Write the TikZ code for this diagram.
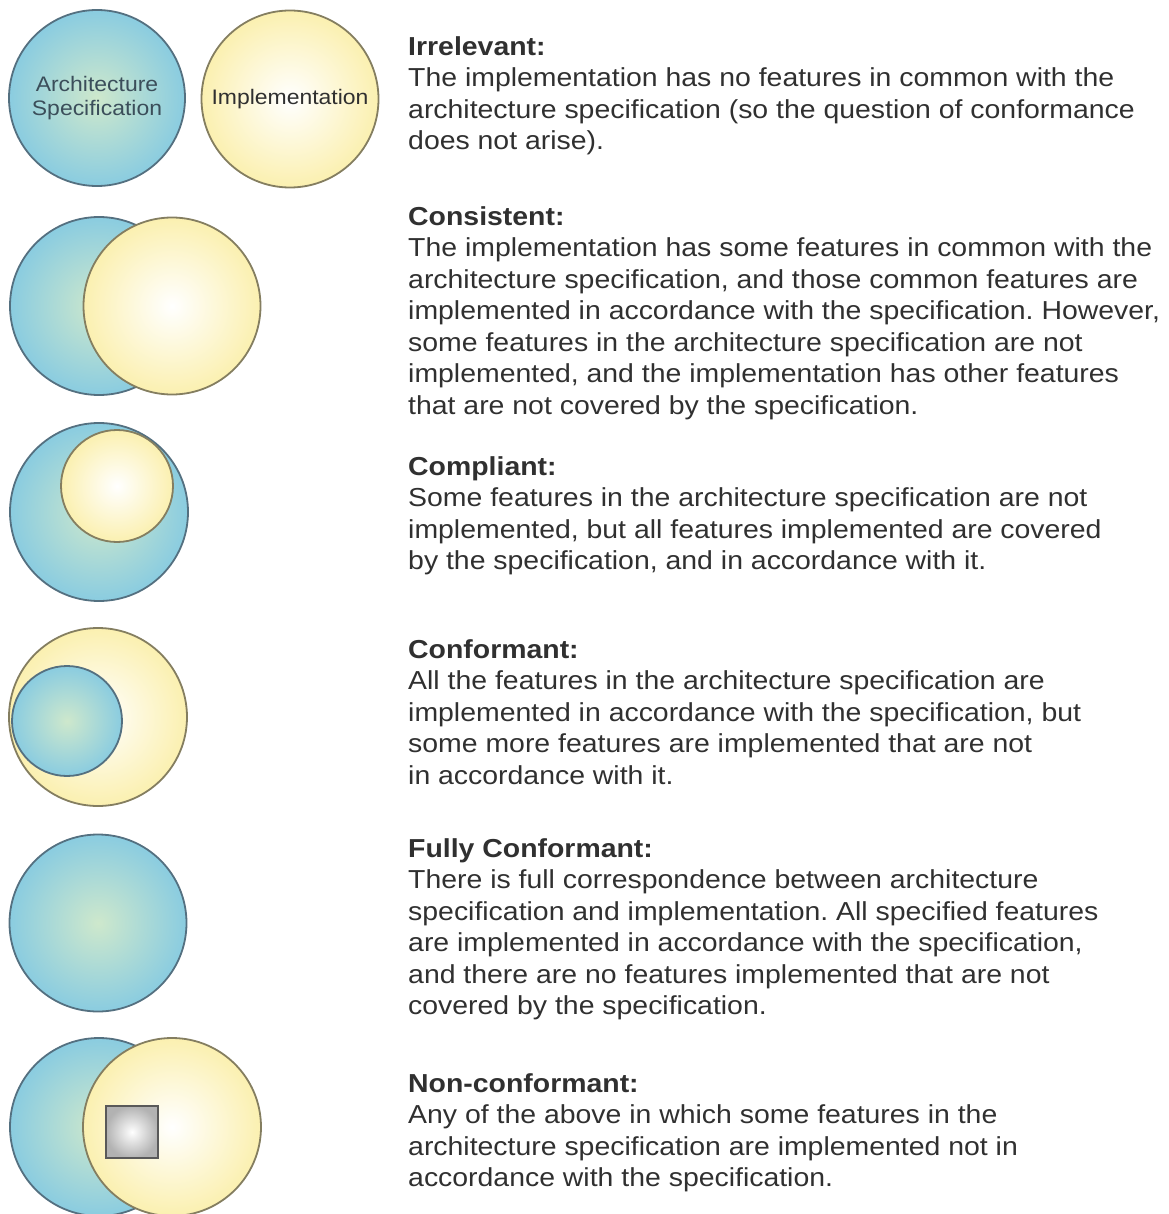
\documentclass[tikz,border=0pt]{standalone}
\usepackage{fontspec}
\setmainfont[FakeStretch=1.093]{Liberation Sans}
\frenchspacing
\definecolor{specedge}{RGB}{138,204,224}
\definecolor{specmid}{RGB}{206,232,204}
\definecolor{specline}{RGB}{84,112,128}
\definecolor{impledge}{RGB}{251,240,176}
\definecolor{implline}{RGB}{132,126,96}
\definecolor{txt}{RGB}{48,48,48}
\tikzset{
  spec/.style={circle,draw=specline,line width=1.8pt,inner sep=0pt,
    inner color=specmid,outer color=specedge,text=specline!70!black,
    align=center,font=\fontsize{21}{24}\selectfont},
  impl/.style={circle,draw=implline,line width=1.8pt,inner sep=0pt,
    inner color=white,outer color=impledge,text=txt,
    font=\fontsize{21}{24}\selectfont},
  fault/.style={rectangle,draw=black!65,line width=2.2pt,minimum size=52pt,
    inner color=white,outer color=black!30},
  descr/.style={anchor=north west,inner sep=0pt,align=left,text=txt,
    font=\fontsize{26}{31.5}\selectfont}
}
\begin{document}
\begin{tikzpicture}[x=1pt,y=-1pt]
\useasboundingbox (0,0) rectangle (1168,1214);
% irrelevant
\node[spec,minimum size=176pt] (spec1) at (97,98) {Architecture\\Specification};
\node[impl,minimum size=177pt] (impl1) at (290,99) {Implementation};
% consistent
\node[spec,minimum size=178pt] (spec2) at (99,306) {};
\node[impl,minimum size=177pt] (impl2) at (172,306) {};
% compliant
\node[spec,minimum size=178pt] (spec3) at (99,512) {};
\node[impl,minimum size=112pt] (impl3) at (117,486) {};
% conformant
\node[impl,minimum size=178pt] (impl4) at (98,717) {};
\node[spec,minimum size=110pt] (spec4) at (67,721) {};
% fully conformant
\node[spec,minimum size=177pt] (spec5) at (98,923) {};
% non-conformant
\node[spec,minimum size=178pt] (spec6) at (99,1127) {};
\node[impl,minimum size=178pt] (impl6) at (172,1127) {};
\node[fault] (fault6) at (132,1132) {};

\node[descr] (irrel) at (408,36) {\textbf{Irrelevant:}\\
The implementation has no features in common with the\\
architecture specification (so the question of conformance\\
does not arise).};
\node[descr] (consist) at (408,206) {\textbf{Consistent:}\\
The implementation has some features in common with the\\
architecture specification, and those common features are\\
implemented in accordance with the specification. However,\\
some features in the architecture specification are not\\
implemented, and the implementation has other features\\
that are not covered by the specification.};
\node[descr] (compl) at (408,456) {\textbf{Compliant:}\\
Some features in the architecture specification are not\\
implemented, but all features implemented are covered\\
by the specification, and in accordance with it.};
\node[descr] (conf) at (408,639) {\textbf{Conformant:}\\
All the features in the architecture specification are\\
implemented in accordance with the specification, but\\
some more features are implemented that are not\\
in accordance with it.};
\node[descr] (fullconf) at (408,838) {\textbf{Fully Conformant:}\\
There is full correspondence between architecture\\
specification and implementation. All specified features\\
are implemented in accordance with the specification,\\
and there are no features implemented that are not\\
covered by the specification.};
\node[descr] (nonconf) at (408,1073) {\textbf{Non-conformant:}\\
Any of the above in which some features in the\\
architecture specification are implemented not in\\
accordance with the specification.};
\end{tikzpicture}
\end{document}
